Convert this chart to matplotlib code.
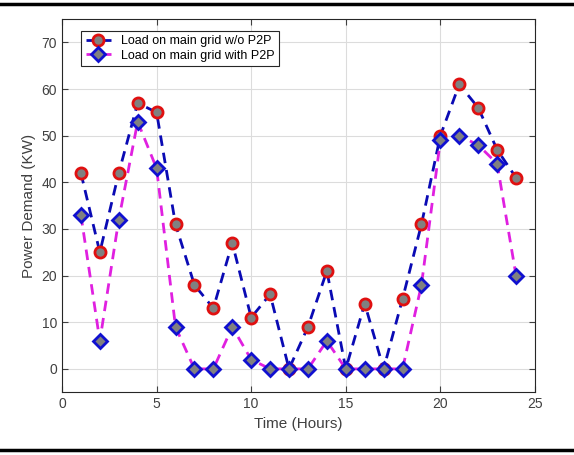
import matplotlib.pyplot as plt
import matplotlib.lines as mlines

hours = list(range(1, 25))
load_no_p2p = [42, 25, 42, 57, 55, 31, 18, 13, 27, 11, 16, 0,
               9, 21, 0, 14, 0, 15, 31, 50, 61, 56, 47, 41]
load_p2p = [33, 6, 32, 53, 43, 9, 0, 0, 9, 2, 0, 0,
            0, 6, 0, 0, 0, 0, 18, 49, 50, 48, 44, 20]

xticks = [0, 5, 10, 15, 20, 25]
yticks = [0, 10, 20, 30, 40, 50, 60, 70]

plt.rcParams['font.family'] = ['Arial', 'Liberation Sans', 'DejaVu Sans']

fig = plt.figure(figsize=(5.74, 4.55), dpi=100)
ax = fig.add_axes([0.108, 0.138, 0.824, 0.820])

# thick black rules at top and bottom of the picture
fig.add_artist(mlines.Line2D([0, 1], [0.991, 0.991], color='black', lw=2.5,
                             transform=fig.transFigure))
fig.add_artist(mlines.Line2D([0, 1], [0.010, 0.010], color='black', lw=2.5,
                             transform=fig.transFigure))

ax.plot(hours, load_no_p2p, '--', color='#0a0ab4', lw=2, dashes=(3.8, 2.5),
        marker='o', markersize=8, markerfacecolor='#808080',
        markeredgecolor='#e01010', markeredgewidth=2,
        label='Load on main grid w/o P2P', zorder=3)
ax.plot(hours, load_p2p, '--', color='#e020e0', lw=2, dashes=(3.8, 2.5),
        marker='D', markersize=7, markerfacecolor='#808080',
        markeredgecolor='#1010d0', markeredgewidth=2,
        label='Load on main grid with P2P', zorder=4)

ax.set_xlim(0, 25)
ax.set_ylim(-5, 75)
ax.set_xticks(xticks)
ax.set_yticks(yticks)
ax.grid(True, color='#dcdcdc', lw=0.8)
ax.set_axisbelow(True)
ax.tick_params(direction='in', length=4, colors='#404040', labelsize=10,
               top=True, right=True)
for s in ax.spines.values():
    s.set_color('#262626')
    s.set_linewidth(0.8)

ax.set_xlabel('Time (Hours)', fontsize=11, color='#404040')
ax.set_ylabel('Power Demand (KW)', fontsize=11, color='#404040')

leg = ax.legend(loc='upper left', bbox_to_anchor=(0.028, 0.985), fontsize=9,
                fancybox=False, edgecolor='#262626', framealpha=1,
                handlelength=2.0, borderpad=0.35, labelspacing=0.2,
                handletextpad=0.8)
leg.get_frame().set_linewidth(0.8)

plt.savefig('out.png')
